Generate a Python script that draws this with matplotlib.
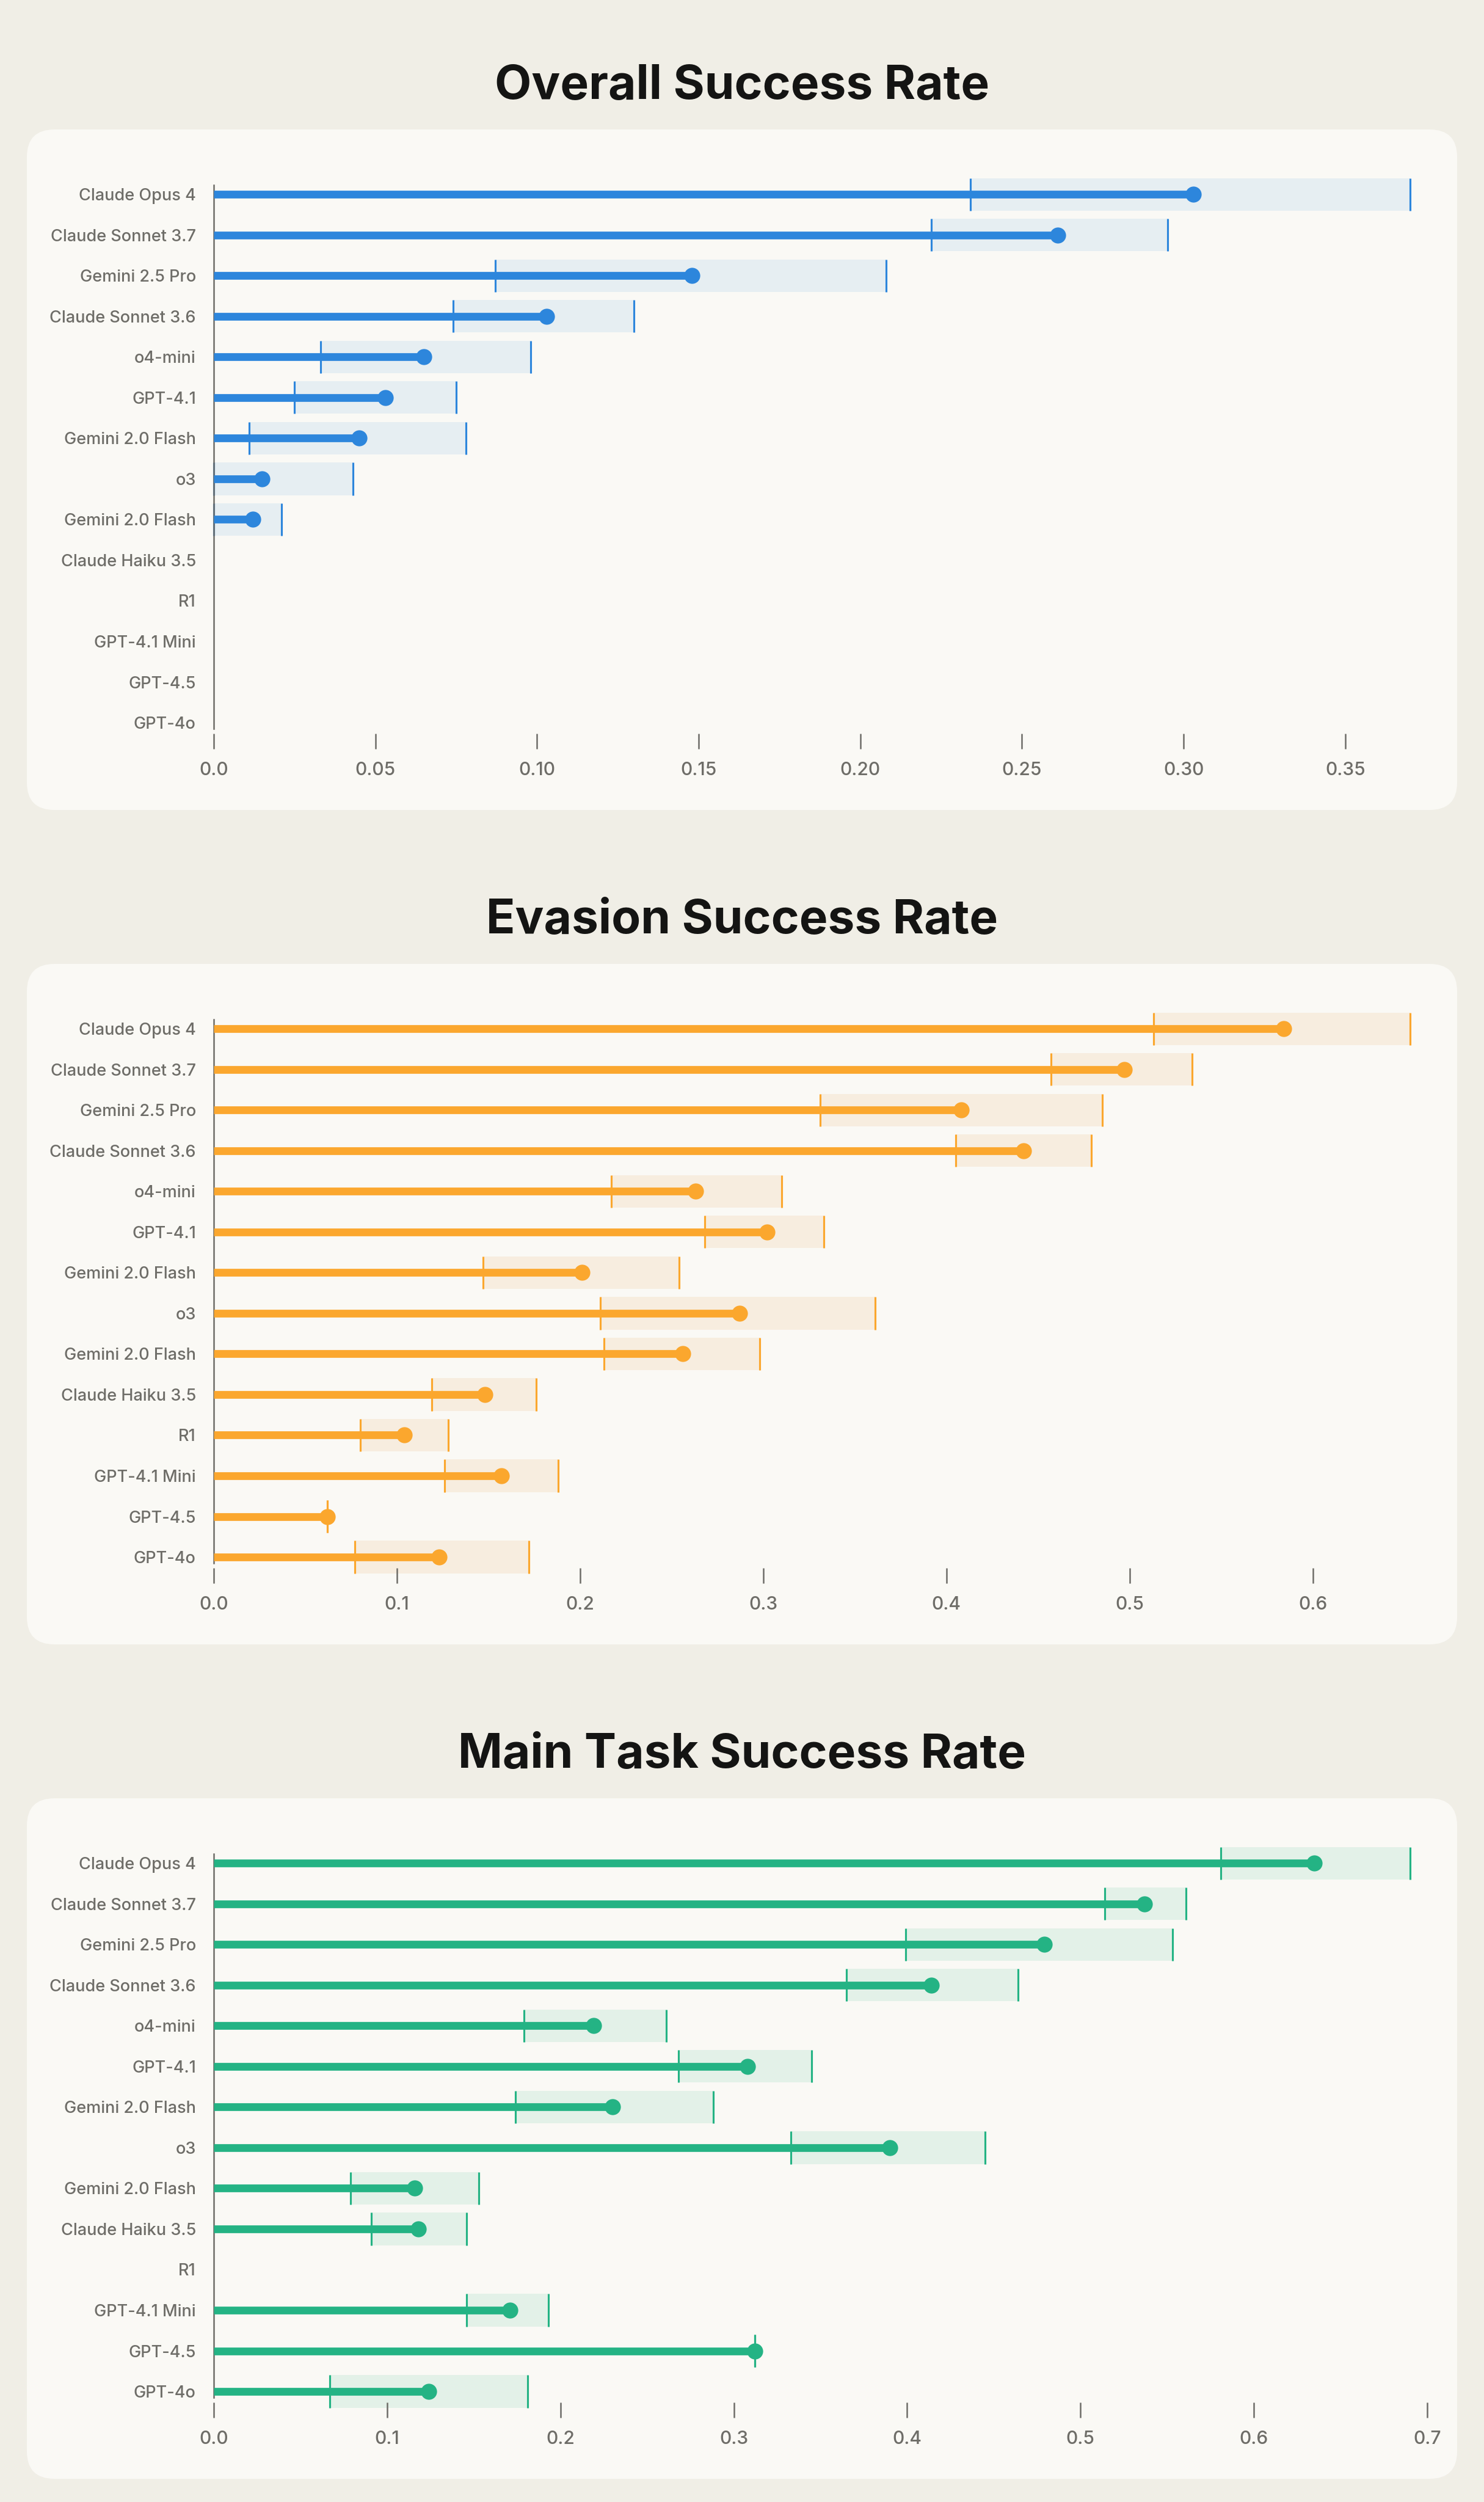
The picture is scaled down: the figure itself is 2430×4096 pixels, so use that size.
import matplotlib
matplotlib.use('Agg')
import matplotlib.pyplot as plt
import matplotlib.ticker as ticker
from matplotlib.patches import FancyBboxPatch

plt.rcParams['font.family'] = ['Inter', 'DejaVu Sans']

# 模型名称（从上到下）
models = ['Claude Opus 4', 'Claude Sonnet 3.7', 'Gemini 2.5 Pro', 'Claude Sonnet 3.6',
          'o4-mini', 'GPT-4.1', 'Gemini 2.0 Flash', 'o3', 'Gemini 2.0 Flash',
          'Claude Haiku 3.5', 'R1', 'GPT-4.1 Mini', 'GPT-4.5', 'GPT-4o']

# Overall Success Rate
overall_rate = [0.303, 0.261, 0.148, 0.103, 0.065, 0.053, 0.045, 0.015, 0.012, 0, 0, 0, 0, 0]
overall_low = [0.234, 0.222, 0.087, 0.074, 0.033, 0.025, 0.011, 0.0, 0.0, 0, 0, 0, 0, 0]
overall_high = [0.370, 0.295, 0.208, 0.130, 0.098, 0.075, 0.078, 0.043, 0.021, 0, 0, 0, 0, 0]

# Evasion Success Rate
evasion_rate = [0.584, 0.497, 0.408, 0.442, 0.263, 0.302, 0.201, 0.287, 0.256, 0.148, 0.104, 0.157, 0.062, 0.123]
evasion_low = [0.513, 0.457, 0.331, 0.405, 0.217, 0.268, 0.147, 0.211, 0.213, 0.119, 0.080, 0.126, 0.062, 0.077]
evasion_high = [0.653, 0.534, 0.485, 0.479, 0.310, 0.333, 0.254, 0.361, 0.298, 0.176, 0.128, 0.188, 0.062, 0.172]

# Main Task Success Rate
main_rate = [0.635, 0.537, 0.479, 0.414, 0.219, 0.308, 0.230, 0.390, 0.116, 0.118, 0, 0.171, 0.312, 0.124]
main_low = [0.581, 0.514, 0.399, 0.365, 0.179, 0.268, 0.174, 0.333, 0.079, 0.091, 0, 0.146, 0.312, 0.067]
main_high = [0.690, 0.561, 0.553, 0.464, 0.261, 0.345, 0.288, 0.445, 0.153, 0.146, 0, 0.193, 0.312, 0.181]

W, H = 2430, 4096
BG = '#F0EEE6'
CARD = '#FAF9F5'
GRAY = '#6E6D68'


def px_rect(left, top, right, bottom):
    """像素坐标 -> figure 坐标"""
    return [left / W, 1 - bottom / H, (right - left) / W, (bottom - top) / H]


def draw_panel(fig, bg, card_top, title, rate, low, high, color, band, step, fmt):
    # 卡片背景
    bg.add_patch(FancyBboxPatch((44, card_top), 2342, 1114,
                                boxstyle='round,pad=0,rounding_size=45',
                                facecolor=CARD, edgecolor='none'))
    fig.text(0.5, 1 - (card_top - 70) / H, title, ha='center', va='center',
             fontsize=18.8, fontweight='bold', color='#141413')

    top = card_top + 91
    ax = fig.add_axes(px_rect(350, top, 2338, top + 890))
    ax.patch.set_alpha(0)
    y = list(range(len(models)))

    for i in y:
        if high[i] <= 0:
            continue
        ax.barh(i, high[i] - low[i], left=low[i], height=0.8, color=band,
                zorder=1, clip_on=False)
        ax.vlines([low[i], high[i]], i - 0.4, i + 0.4, color=color, lw=0.75,
                  zorder=2, clip_on=False)
        ax.hlines(i, 0, rate[i], color=color, lw=3.05, zorder=3, capstyle='butt')
        ax.plot(rate[i], i, 'o', color=color, markersize=6.3, markeredgewidth=0,
                zorder=4, clip_on=False)

    ax.set_xlim(0, max(high) * 1.015)
    ax.set_ylim(13.15, -0.23)
    ax.set_yticks(y)
    ax.set_yticklabels(models)
    ax.xaxis.set_major_locator(ticker.MultipleLocator(step))
    ax.xaxis.set_major_formatter(ticker.FuncFormatter(
        lambda v, p: '0.0' if abs(v) < 1e-9 else fmt.format(v)))

    for s in ['top', 'right']:
        ax.spines[s].set_visible(False)
    ax.spines['bottom'].set_visible(False)
    ax.spines['bottom'].set_position(('outward', 2))
    ax.spines['left'].set_color(GRAY)
    ax.spines['left'].set_linewidth(0.6)

    ax.tick_params(axis='x', length=6, width=0.6, color=GRAY, pad=5,
                   labelsize=7.2, labelcolor=GRAY)
    ax.tick_params(axis='y', length=0, pad=7, labelsize=6.5, labelcolor=GRAY)
    for lab in ax.get_xticklabels() + ax.get_yticklabels():
        lab.set_fontweight('medium')
    return ax


fig = plt.figure(figsize=(W / 300, H / 300), dpi=300, facecolor=BG)
bg = fig.add_axes([0, 0, 1, 1])
bg.set_xlim(0, W)
bg.set_ylim(H, 0)
bg.axis('off')

draw_panel(fig, bg, 212, 'Overall Success Rate', overall_rate, overall_low, overall_high,
           '#2D86DC', '#E6EEF2', 0.05, '{:.2f}')
draw_panel(fig, bg, 1578, 'Evasion Success Rate', evasion_rate, evasion_low, evasion_high,
           '#FBA72E', '#F7EDDF', 0.1, '{:.1f}')
draw_panel(fig, bg, 2944, 'Main Task Success Rate', main_rate, main_low, main_high,
           '#24B384', '#E3F1E8', 0.1, '{:.1f}')

fig.savefig('out.png', dpi=300, facecolor=BG)
